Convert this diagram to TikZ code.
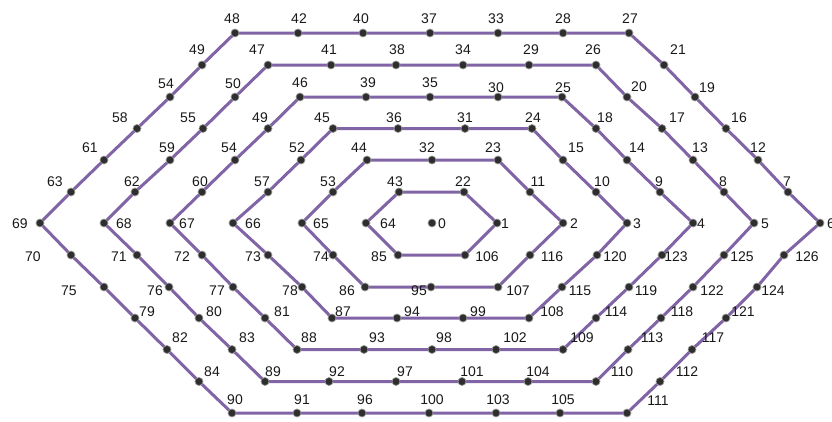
\documentclass[tikz,border=0pt]{standalone}
\usepackage{fontspec}
\setmainfont{Liberation Sans}
\usetikzlibrary{backgrounds}
\definecolor{edgec}{RGB}{128,100,165}
\definecolor{txt}{RGB}{25,25,25}
\tikzset{
  dot/.style={circle, fill=black!82, draw=black!40, line width=0.7pt, inner sep=0pt, minimum size=8pt},
  lbl/.style={font=\fontsize{14}{15}\selectfont, text=txt, inner sep=0pt},
  ring/.style={draw=edgec, line width=3pt, line join=round}
}
\newcommand\V[6]{\node[dot] (n#1) at (#2,#3) {}; \node[lbl] (l#1) at ([shift={(#5,#6)}]n#1.center) {#4};}
\begin{document}
\begin{tikzpicture}[x=1pt,y=-1pt]
\useasboundingbox (0,0) rectangle (832,421);
% row -6
\V{48}{235}{33}{48}{-3}{-14}
\V{42}{298}{33}{42}{1}{-14}
\V{40}{363}{33}{40}{-2}{-14}
\V{37}{430}{33}{37}{-1}{-14}
\V{33}{498}{33}{33}{-2}{-14}
\V{28}{563}{33}{28}{0}{-14}
\V{27}{629}{33}{27}{1}{-14}
% row -5
\V{49}{202}{65}{49}{-5}{-15}
\V{47}{268}{65}{47}{-11}{-15}
\V{41}{331}{65}{41}{-2}{-15}
\V{38}{396}{65}{38}{1}{-15}
\V{34}{463}{65}{34}{0}{-15}
\V{29}{529}{65}{29}{2}{-15}
\V{26}{596}{65}{26}{-3}{-15}
\V{21}{664}{65}{21}{14}{-15}
% row -4
\V{54}{170}{97}{54}{-4}{-13}
\V{50}{235}{97}{50}{-2}{-13}
\V{46}{300}{97}{46}{0}{-14}
\V{39}{366}{97}{39}{2}{-14}
\V{35}{430}{97}{35}{0}{-14}
\V{30}{498}{97}{30}{-2}{-9}
\V{25}{562}{97}{25}{1}{-9}
\V{20}{627}{97}{20}{12}{-10}
\V{19}{695}{97}{19}{12}{-9}
% row -3
\V{58}{137}{128.5}{58}{-17}{-11}
\V{55}{203}{128.5}{55}{-15}{-11}
\V{49b}{268}{128.5}{49}{-8}{-11}
\V{45}{333}{128.5}{45}{-11}{-11}
\V{36}{398}{128.5}{36}{-4}{-11}
\V{31}{465}{128.5}{31}{0}{-11}
\V{24}{532}{128.5}{24}{1}{-11}
\V{18}{596}{128.5}{18}{9}{-11}
\V{17}{662}{128.5}{17}{15}{-11}
\V{16}{726}{128.5}{16}{13}{-11}
% row -2
\V{61}{104}{160}{61}{-14}{-12}
\V{59}{170}{160}{59}{-3}{-12}
\V{54b}{235}{160}{54}{-6}{-12}
\V{52}{301}{160}{52}{-4}{-12}
\V{44}{367}{160}{44}{-8}{-12}
\V{32}{432}{160}{32}{-5}{-12}
\V{23}{498}{160}{23}{-5}{-12}
\V{15}{563}{160}{15}{13}{-12}
\V{14}{627}{160}{14}{10}{-12}
\V{13}{693}{160}{13}{7}{-12}
\V{12}{758}{160}{12}{0}{-12}
% row -1
\V{63}{71}{192}{63}{-16}{-10}
\V{62}{135}{192}{62}{-3}{-10}
\V{60}{202}{192}{60}{-2}{-10}
\V{57}{268}{192}{57}{-6}{-10}
\V{53}{333}{192}{53}{-5}{-10}
\V{43}{399}{192}{43}{-4}{-10}
\V{22}{464}{192}{22}{-1}{-10}
\V{11}{530}{192}{11}{8}{-10}
\V{10}{596}{192}{10}{6}{-10}
\V{9}{660}{192}{9}{-1}{-10}
\V{8}{724}{192}{8}{-1}{-10}
\V{7}{788}{192}{7}{-1}{-10}
% row 0
\V{69}{40}{223}{69}{-20}{1}
\V{68}{104}{223}{68}{20}{1}
\V{67}{170}{223}{67}{17}{1}
\V{66}{233}{223}{66}{20}{1}
\V{65}{302}{223}{65}{19}{1}
\V{64}{366}{223}{64}{22}{1}
\V{0}{432}{223}{0}{10}{1}
\V{1}{497}{223}{1}{8}{1}
\V{2}{563}{223}{2}{11}{1}
\V{3}{627}{223}{3}{10}{1}
\V{4}{693}{223}{4}{8}{1}
\V{5}{754}{223}{5}{11}{1}
\V{6}{820}{223}{6}{11}{1}
% row 1
\V{70}{71}{255}{70}{-38}{2}
\V{71}{137}{255}{71}{-18}{2}
\V{72}{202}{255}{72}{-20}{2}
\V{73}{268}{255}{73}{-15}{2}
\V{74}{333}{255}{74}{-12}{2}
\V{85}{398}{255}{85}{-19}{2}
\V{106}{465}{255}{106}{22}{2}
\V{116}{530}{255}{116}{22}{2}
\V{120}{597}{255}{120}{18}{2}
\V{123}{662}{255}{123}{14}{2}
\V{125}{724}{255}{125}{18}{2}
\V{126}{784}{255}{126}{23}{2}
% row 2
\V{75}{104}{287}{75}{-35}{4}
\V{76}{169}{287}{76}{-14}{4}
\V{77}{233}{287}{77}{-16}{4}
\V{78}{302}{287}{78}{-12}{4}
\V{86}{365}{287}{86}{-18}{4}
\V{95}{431}{287}{95}{-12}{4}
\V{107}{498}{287}{107}{20}{4}
\V{115}{562}{287}{115}{18}{4}
\V{119}{629}{287}{119}{17}{4}
\V{122}{693}{287}{122}{19}{4}
\V{124}{757}{287}{124}{16}{4}
% row 3
\V{79}{135}{318}{79}{12}{-6}
\V{80}{199}{318}{80}{15}{-6}
\V{81}{265}{318}{81}{17}{-6}
\V{87}{332}{318}{87}{11}{-6}
\V{94}{397}{318}{94}{15}{-6}
\V{99}{463}{318}{99}{15}{-6}
\V{108}{529}{318}{108}{23}{-6}
\V{114}{596}{318}{114}{20}{-6}
\V{118}{661}{318}{118}{21}{-6}
\V{121}{726}{318}{121}{17}{-6}
% row 4
\V{82}{167}{349.5}{82}{13}{-12}
\V{83}{232}{349.5}{83}{15}{-12}
\V{88}{297}{349.5}{88}{12}{-12}
\V{93}{364}{349.5}{93}{13}{-12}
\V{98}{432}{349.5}{98}{12}{-12}
\V{102}{496}{349.5}{102}{19}{-12}
\V{109}{563}{349.5}{109}{19}{-12}
\V{113}{628}{349.5}{113}{24}{-12}
\V{117}{692}{349.5}{117}{21}{-12}
% row 5
\V{84}{199}{381.5}{84}{13}{-10}
\V{89}{265}{381.5}{89}{8}{-10}
\V{92}{329}{381.5}{92}{8}{-10}
\V{97}{396}{381.5}{97}{9}{-10}
\V{101}{462}{381.5}{101}{10}{-10}
\V{104}{528}{381.5}{104}{10}{-10}
\V{110}{596}{381.5}{110}{26}{-10}
\V{112}{660}{381.5}{112}{27}{-10}
% row 6
\V{90}{232}{413}{90}{3}{-13}
\V{91}{297}{413}{91}{5}{-13}
\V{96}{362}{413}{96}{3}{-13}
\V{100}{429}{413}{100}{3}{-13}
\V{103}{496}{413}{103}{2}{-13}
\V{105}{560}{413}{105}{3}{-13}
\V{111}{627}{413}{111}{31}{-12}
% rings
\begin{scope}[on background layer]
\fill[white] (0,0) rectangle (832,421);
\draw[ring] (n1.center) \foreach \k in {22,43,64,85,106} { -- (n\k.center) } -- cycle;
\draw[ring] (n2.center) \foreach \k in {11,23,32,44,53,65,74,86,95,107,116} { -- (n\k.center) } -- cycle;
\draw[ring] (n3.center) \foreach \k in {10,15,24,31,36,45,52,57,66,73,78,87,94,99,108,115,120} { -- (n\k.center) } -- cycle;
\draw[ring] (n4.center) \foreach \k in {9,14,18,25,30,35,39,46,49b,54b,60,67,72,77,81,88,93,98,102,109,114,119,123} { -- (n\k.center) } -- cycle;
\draw[ring] (n5.center) \foreach \k in {8,13,17,20,26,29,34,38,41,47,50,55,59,62,68,71,76,80,83,89,92,97,101,104,110,113,118,122,125} { -- (n\k.center) } -- cycle;
\draw[ring] (n6.center) \foreach \k in {7,12,16,19,21,27,28,33,37,40,42,48,49,54,58,61,63,69,70,75,79,82,84,90,91,96,100,103,105,111,112,117,121,124,126} { -- (n\k.center) } -- cycle;
\end{scope}
\end{tikzpicture}
\end{document}
